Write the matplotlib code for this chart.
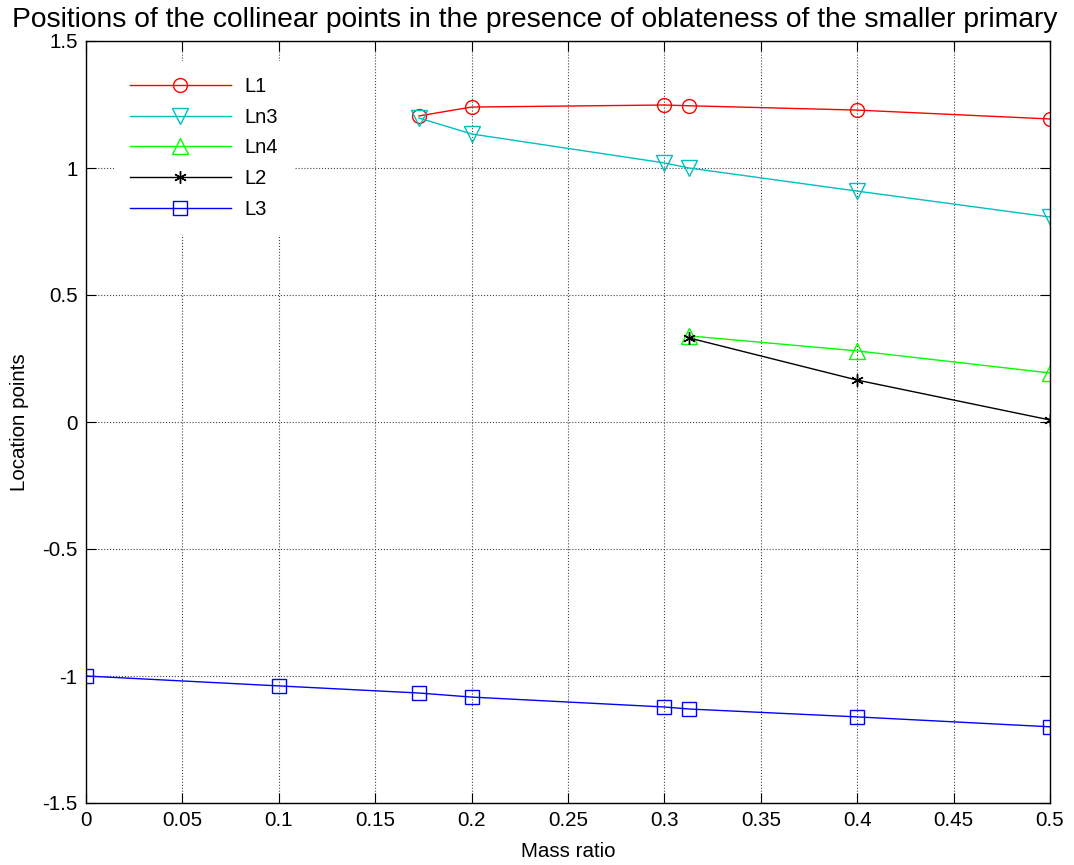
import matplotlib
matplotlib.use("Agg")
import matplotlib.pyplot as plt

plt.rcParams['font.family'] = ['Liberation Sans', 'DejaVu Sans']

mu_L1 = [0.1727, 0.2, 0.3, 0.3128, 0.4, 0.5]
L1 = [1.205, 1.240, 1.248, 1.245, 1.228, 1.193]
mu_Ln3 = [0.1727, 0.2, 0.3, 0.3128, 0.4, 0.5]
Ln3 = [1.197, 1.134, 1.020, 1.000, 0.909, 0.807]
mu_Ln4 = [0.3128, 0.4, 0.5]
Ln4 = [0.339, 0.280, 0.193]
mu_L2 = [0.3128, 0.4, 0.5]
L2 = [0.331, 0.165, 0.008]
mu_L3 = [0.0, 0.1, 0.1727, 0.2, 0.3, 0.3128, 0.4, 0.5]
L3 = [-1.000, -1.039, -1.067, -1.083, -1.122, -1.130, -1.161, -1.200]

xticks = [0, 0.05, 0.1, 0.15, 0.2, 0.25, 0.3, 0.35, 0.4, 0.45, 0.5]
xticklabels = ['0', '0.05', '0.1', '0.15', '0.2', '0.25', '0.3', '0.35', '0.4', '0.45', '0.5']
yticks = [-1.5, -1, -0.5, 0, 0.5, 1, 1.5]
yticklabels = ['-1.5', '-1', '-0.5', '0', '0.5', '1', '1.5']

W, H = 1074, 865
fig = plt.figure(figsize=(W/100, H/100), dpi=100)
ax = fig.add_axes([86/W, 1-803/H, (1050-86)/W, (803-41)/H])

kw = dict(linewidth=1, markerfacecolor='none', markeredgewidth=1)
ax.plot(mu_L1, L1, '-', marker='o', markersize=10, color='#ff0000', label='L1', **kw)
ax.plot(mu_Ln3, Ln3, '-', marker='v', markersize=11, color='#00bfbf', label='Ln3', **kw)
ax.plot(mu_Ln4, Ln4, '-', marker='^', markersize=11, color='#00ff00', label='Ln4', **kw)
ax.plot(mu_L2, L2, '-', marker=(6, 2, 0), markersize=9, color='#000000', label='L2', **kw)
ax.plot(mu_L3, L3, '-', marker='s', markersize=9.5, color='#0000ff', label='L3', **kw)

ax.set_xlim(0, 0.5)
ax.set_ylim(-1.5, 1.5)
ax.set_xticks(xticks)
ax.set_xticklabels(xticklabels)
ax.set_yticks(yticks)
ax.set_yticklabels(yticklabels)
ax.tick_params(direction='in', top=True, right=True, labelsize=14.8, length=7, pad=6)
ax.grid(True, color='#444444', linestyle=':', linewidth=0.8)
for s in ax.spines.values():
    s.set_linewidth(1)

ax.set_xlabel('Mass ratio', fontsize=14.8)
ax.xaxis.set_label_coords(0.5, (803-842)/762)
ax.set_ylabel('Location points', fontsize=14.8)
ax.yaxis.set_label_coords((29-86)/964, 0.5)
fig.text(535/W, 1-27/H, 'Positions of the collinear points in the presence of oblateness of the smaller primary',
         ha='center', va='baseline', fontsize=20.3)

leg = ax.legend(loc='upper left', bbox_to_anchor=(28/964, 1-20/762), borderaxespad=0, borderpad=0.8,
                frameon=True, fancybox=False, edgecolor='white', framealpha=1, fontsize=14.5,
                handlelength=5.0, handletextpad=0.65, labelspacing=0.58)
leg.get_frame().set_linewidth(0)

fig.savefig('out.png', dpi=100)
